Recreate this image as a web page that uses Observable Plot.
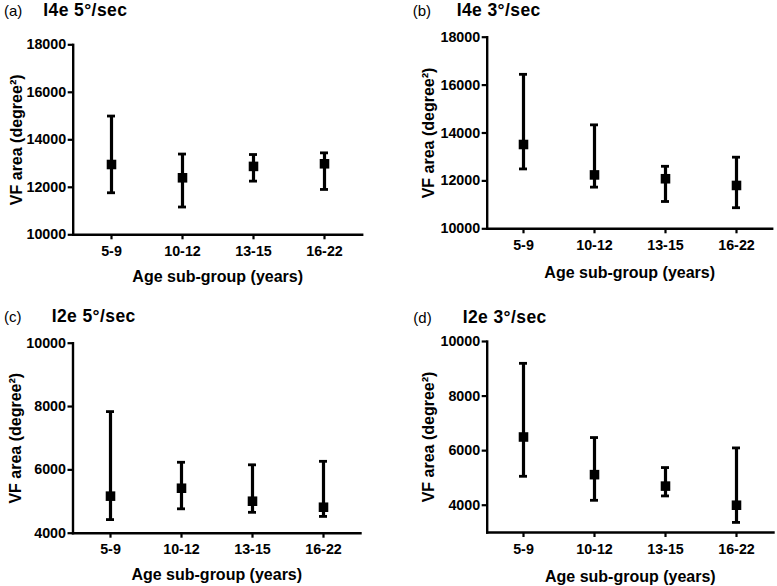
<!DOCTYPE html>
<html>
<head>
<meta charset="utf-8">
<script src="https://cdn.jsdelivr.net/npm/d3@7"></script>
<script src="https://cdn.jsdelivr.net/npm/@observablehq/plot@0.6"></script>
<style>
  body { margin: 0; background: #fff; }
  #wrap { position: relative; width: 777px; height: 586px; font-family: "Liberation Sans", Arial, sans-serif; color: #000; }
  .panel { position: absolute; }
  .lab { position: absolute; font-size: 15px; line-height: 20px; white-space: nowrap; }
  .ttl { position: absolute; font-size: 17.5px; font-weight: bold; letter-spacing: 0.4px; line-height: 20px; white-space: nowrap; }
</style>
</head>
<body>
<div id="wrap"></div>
<script>
// ---- data ----
const ageGroups = ["5-9", "10-12", "13-15", "16-22"];
const panelLetters = ["(a)", "(b)", "(c)", "(d)"];
const panelTitles = ["I4e 5°/sec", "I4e 3°/sec", "I2e 5°/sec", "I2e 3°/sec"];
const xLabel = "Age sub-group (years)";
const yLabel = "VF area (degree²)";

const meanA  = [12960, 12400, 12880, 12990];
const upperA = [15000, 13400, 13380, 13450];
const lowerA = [11770, 11170, 12260, 11910];

const meanB  = [13520, 12250, 12090, 11810];
const upperB = [16450, 14340, 12610, 12990];
const lowerB = [12500, 11740, 11140, 10880];

const meanC  = [5170, 5420, 5010, 4820];
const upperC = [7840, 6240, 6160, 6270];
const lowerC = [4430, 4770, 4660, 4530];

const meanD  = [6500, 5120, 4700, 4000];
const upperD = [9200, 6480, 5380, 6100];
const lowerD = [5060, 4180, 4340, 3370];

const domainI4e = [10000, 18000];
const ticksI4e = [10000, 12000, 14000, 16000, 18000];
const domainI2e5 = [4000, 10000];
const ticksI2e5 = [4000, 6000, 8000, 10000];
const domainI2e3 = [3000, 10000];
const ticksI2e3 = [4000, 6000, 8000, 10000];

// ---- layout (not data) ----
const layouts = [
  {left: 0,   top: 0,   w: 388, h: 290, ml: 72.7, mr: 26.3, mt: 44.3, mb: 55.7, pad: 0.516, xdy: 47.4, ydx: -51,
   letterX: 4, titleX: 43.3, base: 16},
  {left: 390, top: 0,   w: 387, h: 290, ml: 96.7, mr: 5.3,  mt: 36.7, mb: 61.7, pad: 0.488, xdy: 49,   ydx: -53.4,
   letterX: 412.7, titleX: 456.7, base: 16.5},
  {left: 0,   top: 295, w: 388, h: 291, ml: 72.5, mr: 28,   mt: 47.7, mb: 53.3, pad: 0.515, xdy: 46.5, ydx: -51.8,
   letterX: 4, titleX: 51.7, base: 321.7},
  {left: 390, top: 295, w: 387, h: 291, ml: 96.7, mr: 4,    mt: 46,   mb: 54,   pad: 0.508, xdy: 49,   ydx: -53.7,
   letterX: 413.3, titleX: 462.7, base: 323.5}
];

const series = [
  [meanA, upperA, lowerA, domainI4e, ticksI4e],
  [meanB, upperB, lowerB, domainI4e, ticksI4e],
  [meanC, upperC, lowerC, domainI2e5, ticksI2e5],
  [meanD, upperD, lowerD, domainI2e3, ticksI2e3]
];

const wrap = document.getElementById("wrap");

function topFor(baseline, fs) {
  return baseline - ((20 - 1.117 * fs) / 2 + 0.905 * fs);
}

series.forEach(([mean, upper, lower, domain, ticks], k) => {
  const L = layouts[k];
  const rows = ageGroups.map((g, i) => ({g, mean: mean[i], hi: upper[i], lo: lower[i]}));
  const svg = Plot.plot({
    width: L.w,
    height: L.h,
    marginLeft: L.ml,
    marginRight: L.mr,
    marginTop: L.mt,
    marginBottom: L.mb,
    style: {fontFamily: "'Liberation Sans', Arial, sans-serif", fontWeight: "bold", color: "#000", background: "transparent", overflow: "visible"},
    x: {type: "point", domain: ageGroups, padding: L.pad},
    y: {domain: domain},
    marks: [
      Plot.frame({anchor: "left", strokeWidth: 2.4, stroke: "#000"}),
      Plot.frame({anchor: "bottom", strokeWidth: 2.4, stroke: "#000"}),
      Plot.axisY({ticks: ticks, tickSize: 5, tickPadding: 2, fontSize: 14.3, fontWeight: "bold", tickFormat: d => String(d), label: null, strokeWidth: 2.2}),
      Plot.axisX({tickSize: 5, tickPadding: 6, fontSize: 14.3, fontWeight: "bold", label: null, strokeWidth: 2.2}),
      Plot.ruleX(rows, {x: "g", y1: "lo", y2: "hi", strokeWidth: 3.2, stroke: "#000"}),
      Plot.ruleY(rows, {y: "hi", x1: "g", x2: "g", insetLeft: -4, insetRight: -4, strokeWidth: 2.8, stroke: "#000"}),
      Plot.ruleY(rows, {y: "lo", x1: "g", x2: "g", insetLeft: -4, insetRight: -4, strokeWidth: 2.8, stroke: "#000"}),
      Plot.dot(rows, {x: "g", y: "mean", symbol: "square", r: 5.4, fill: "#000"}),
      Plot.text([xLabel], {text: d => d, frameAnchor: "bottom", textAnchor: "middle", lineAnchor: "bottom", dy: L.xdy, fontSize: 16, fontWeight: "bold"}),
      Plot.text([yLabel], {text: d => d, frameAnchor: "left", textAnchor: "middle", rotate: -90, lineAnchor: "bottom", dx: L.ydx, fontSize: 16, fontWeight: "bold"})
    ]
  });
  const holder = document.createElement("div");
  holder.className = "panel";
  holder.style.left = L.left + "px";
  holder.style.top = L.top + "px";
  holder.appendChild(svg);
  wrap.appendChild(holder);

  const lab = document.createElement("span");
  lab.className = "lab";
  lab.textContent = panelLetters[k];
  lab.style.left = L.letterX + "px";
  lab.style.top = topFor(L.base, 15) + "px";
  wrap.appendChild(lab);

  const ttl = document.createElement("span");
  ttl.className = "ttl";
  ttl.textContent = panelTitles[k];
  ttl.style.left = L.titleX + "px";
  ttl.style.top = topFor(L.base, 17.5) + "px";
  wrap.appendChild(ttl);
});
</script>
</body>
</html>
